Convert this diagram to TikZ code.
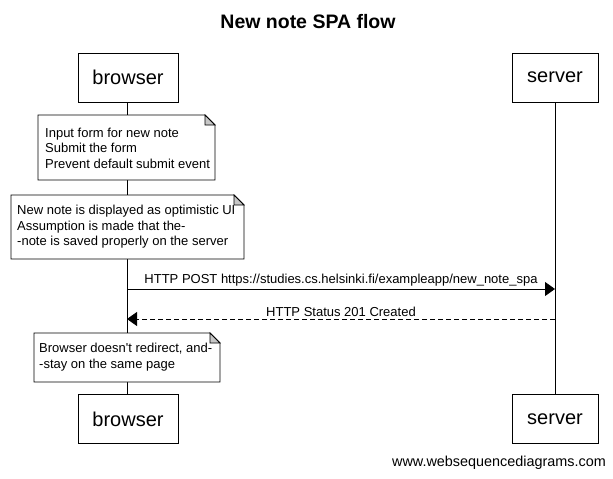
\documentclass[tikz,border=0pt]{standalone}
\usepackage{fontspec}
\setmainfont{Liberation Sans}
\usetikzlibrary{arrows.meta}
\begin{document}
\begin{tikzpicture}[x=1pt,y=-1pt,
  actor/.style={draw, line width=0.8pt, fill=white, minimum height=49pt, inner sep=0pt, font=\fontsize{20}{24}\selectfont},
  notetext/.style={anchor=west, align=left, inner sep=0pt, font=\fontsize{13}{15.6}\selectfont},
  msg/.style={line width=0.8pt, -{Triangle[length=10pt,width=14pt]}},
  msglabel/.style={above, inner sep=2pt, font=\fontsize{13}{15.6}\selectfont},
  notebox/.style={draw, line width=0.8pt, fill=white},
  fold/.style={draw, line width=0.8pt, fill=black!22}
]
\useasboundingbox (0,0) rectangle (613,479);
\fill[white] (0,0) rectangle (613,479);

% title
\node[font=\bfseries\fontsize{19.5}{23}\selectfont] (title) at (308,22) {New note SPA flow};

% actors
\node[actor, minimum width=100pt] (btop) at (128,77.5) {browser};
\node[actor, minimum width=86pt] (stop) at (555,77.5) {server};
\node[actor, minimum width=100pt] (bbot) at (128,419) {browser};
\node[actor, minimum width=86pt] (sbot) at (555,419) {server};

% lifelines
\path (btop.south) ++(-1,0) coordinate (bl1) (bbot.north) ++(-1,0) coordinate (bl2);
\draw[line width=0.8pt] (bl1) -- (bl2);
\draw[line width=0.8pt] (stop.south) -- (sbot.north);

% note 1
\draw[notebox] (38,115) -- (205,115) -- (215,125) -- (215,180) -- (38,180) -- cycle;
\draw[fold] (205,115) -- (205,125) -- (215,125) -- cycle;
\node[notetext] (n1) at (45,148) {Input form for new note\\Submit the form\\Prevent default submit event};

% note 2
\draw[notebox] (11,195) -- (234,195) -- (244,205) -- (244,259) -- (11,259) -- cycle;
\draw[fold] (234,195) -- (234,205) -- (244,205) -- cycle;
\node[notetext] (n2) at (17,227) {New note is displayed as optimistic UI\\Assumption is made that the-\\-note is saved properly on the server};

% messages
\coordinate (bpost) at (127,289);
\coordinate (spost) at (555,289);
\coordinate (bret) at (127,319);
\coordinate (sret) at (555,319);
\draw[msg] (bpost) -- node[msglabel] (l1) {HTTP POST https://studies.cs.helsinki.fi/exampleapp/new\_note\_spa} (spost);
\draw[msg, dash pattern=on 5pt off 3pt] (sret) -- node[msglabel] (l2) {HTTP Status 201 Created} (bret);

% note 3
\draw[notebox] (34,333) -- (210,333) -- (220,343) -- (220,382) -- (34,382) -- cycle;
\draw[fold] (210,333) -- (210,343) -- (220,343) -- cycle;
\node[notetext] (n3) at (39,357) {Browser doesn\textquotesingle t redirect, and-\\-stay on the same page};

% watermark
\node[anchor=east, inner sep=0pt, font=\fontsize{14.4}{17}\selectfont] (wm) at (606,463) {www.websequencediagrams.com};
\end{tikzpicture}
\end{document}
